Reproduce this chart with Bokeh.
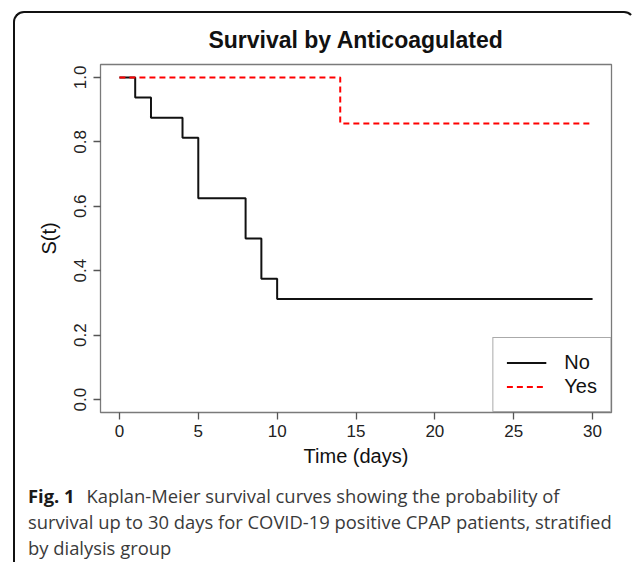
from bokeh.plotting import figure
from bokeh.layouts import column
from bokeh.models import (Range1d, Legend, LegendItem, Div,
                          FixedTicker, PrintfTickFormatter, ColumnDataSource)
from bokeh.embed import file_html
from bokeh.resources import INLINE

# ---------------- data ----------------
title_text = "Survival by Anticoagulated"
x_label = "Time (days)"
y_label = "S(t)"
group_names = ["No", "Yes"]
no_time = [0, 1, 2, 4, 5, 8, 9, 10, 30]
no_surv = [1.0, 0.9375, 0.875, 0.8125, 0.625, 0.5, 0.375, 0.3125, 0.3125]
yes_time = [0, 14, 30]
yes_surv = [1.0, 0.857, 0.857]
x_ticks = [0, 5, 10, 15, 20, 25, 30]
y_ticks = [0.0, 0.2, 0.4, 0.6, 0.8, 1.0]
caption_bold = "Fig. 1"
caption_lines = [
    "Kaplan-Meier survival curves showing the probability of",
    "survival up to 30 days for COVID-19 positive CPAP patients, stratified",
    "by dialysis group",
]

FONT = "Liberation Sans"
CAP_FONT = "Open Sans"

p = figure(width=618, height=469,
           x_range=Range1d(-1.2, 31.2), y_range=Range1d(-0.04, 1.04),
           output_backend="svg", toolbar_location=None,
           min_border_left=85, min_border_right=22,
           min_border_top=51, min_border_bottom=70)
p.background_fill_color = "white"
p.border_fill_color = None
p.xgrid.visible = False
p.ygrid.visible = False
p.outline_line_color = "#7a7a7a"
p.outline_line_width = 1.3

p.title.text = title_text
p.title.align = "center"
p.title.vertical_align = "top"
p.title.text_font = FONT
p.title.text_font_size = "23px"
p.title.text_font_style = "bold"
p.title.text_color = "#111111"
p.title.standoff = 20

for ax in (p.xaxis[0], p.yaxis[0]):
    ax.axis_line_color = None
    ax.major_tick_line_color = "#555555"
    ax.major_tick_line_width = 1.3
    ax.major_tick_out = 7
    ax.major_tick_in = 0
    ax.minor_tick_out = 0
    ax.minor_tick_in = 0
    ax.major_label_text_font = FONT
    ax.major_label_text_font_size = "17px"
    ax.major_label_text_color = "#222222"
    ax.axis_label_text_font = FONT
    ax.axis_label_text_font_size = "20px"
    ax.axis_label_text_font_style = "normal"
    ax.axis_label_text_color = "#111111"

p.xaxis.ticker = FixedTicker(ticks=x_ticks)
p.yaxis.ticker = FixedTicker(ticks=y_ticks)
p.yaxis.formatter = PrintfTickFormatter(format="%.1f")
p.yaxis.major_label_orientation = "parallel"
p.xaxis.axis_label = x_label
p.yaxis.axis_label = y_label
p.xaxis.major_label_standoff = 5
p.xaxis.axis_label_standoff = 5
p.yaxis.major_label_standoff = 7
p.yaxis.axis_label_standoff = 12

src_no = ColumnDataSource(dict(t=no_time, s=no_surv))
src_yes = ColumnDataSource(dict(t=yes_time, s=yes_surv))
r_no = p.step(x="t", y="s", source=src_no, mode="after",
              line_color="#111111", line_width=2)
r_yes = p.step(x="t", y="s", source=src_yes, mode="after",
               line_color="#ff0000", line_width=2, line_dash="6 4")

legend = Legend(items=[LegendItem(label=group_names[0], renderers=[r_no]),
                       LegendItem(label=group_names[1], renderers=[r_yes])],
                location="bottom_right", margin=0, padding=13, spacing=1,
                glyph_width=40, glyph_height=23, label_height=23,
                label_standoff=18, label_text_font=FONT,
                label_text_font_size="20px", label_text_color="#111111",
                border_line_color="#555555", border_line_width=1.3,
                background_fill_color="white", background_fill_alpha=1)
p.add_layout(legend)

cap_html = (
    '<div style="font-family:\'Open Sans\';font-size:18.4px;line-height:26px;'
    'color:#3a3a3a;white-space:nowrap;padding-left:13px;padding-top:1px;margin:0;">'
    '<b style="color:#1a1a1a;margin-right:7px;">' + caption_bold + '</b> '
    + caption_lines[0] + '<br>' + caption_lines[1] + '<br>' + caption_lines[2]
    + '</div>'
)
cap = Div(text=cap_html, width=618, height=80, margin=0)

layout = column(p, cap, spacing=0, styles={
    "margin-left": "13px",
    "margin-top": "11px",
    "border-left": "2px solid #111111",
    "border-top": "2px solid #111111",
    "border-right": "2px solid transparent",
    "border-top-left-radius": "11px",
    "border-top-right-radius": "11px",
})

open("out.html", "w").write(file_html(layout, INLINE))
